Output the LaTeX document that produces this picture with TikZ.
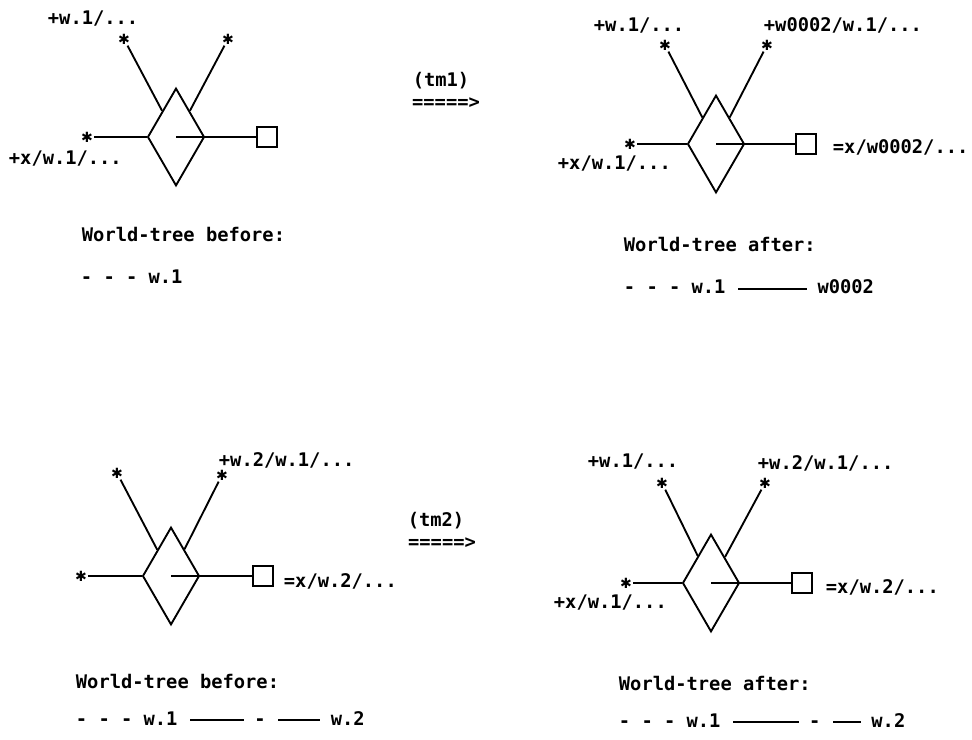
\documentclass[tikz,border=0pt]{standalone}
\usepackage{fontspec}
\setmonofont{DejaVu Sans Mono}
\newfontfamily\symfont{DejaVu Sans}
\usetikzlibrary{shapes.geometric, positioning}

\begin{document}
\begin{tikzpicture}[x=0.03cm, y=-0.03cm, line width=1.6pt,
    txt/.style={inner sep=0pt, font=\ttfamily\bfseries\fontsize{16}{18}\selectfont},
    lbl/.style={txt, anchor=base west},
    wt/.style={txt, anchor=base west, text height=9pt, text depth=0pt},
    wline/.style={shorten <=10pt, shorten >=8pt},
    wdia/.style={draw, diamond, minimum width=48.5pt, minimum height=83.3pt, inner sep=0pt},
    wsq/.style={draw, minimum size=17pt, inner sep=0pt},
    astr/.style={inner sep=0.5pt, font=\symfont\fontsize{12}{12}\selectfont}]
    \useasboundingbox (0,0) rectangle (972,740);

    % before (tm1)
    \node[wdia] (d1) at (176,137) {};
    \node[astr] (s1a) at (124,39) {✱};
    \node[astr] (s1b) at (228,39) {✱};
    \node[astr] (s1c) at (87,137) {✱};
    \node[wsq] (q1) at (267,137) {};
    \draw (s1a) -- (d1);
    \draw (s1b) -- (d1);
    \draw (s1c) -- (d1);
    \draw (d1.center) -- (q1);
    \node[lbl] (l1a) at (47,25) {+w.1/...};
    \node[lbl] (l1c) at (8,165) {+x/w.1/...};
    \node[lbl] (h1) at (81,242) {World-tree before:};
    \node[wt] (t1a) at (80,284) {- - - w.1};

    % after (tm1)
    \node[wdia] (d2) at (716,144) {};
    \node[astr] (s2a) at (665,45) {✱};
    \node[astr] (s2b) at (767,45) {✱};
    \node[astr] (s2c) at (630,144) {✱};
    \node[wsq] (q2) at (806,144) {};
    \draw (s2a) -- (d2);
    \draw (s2b) -- (d2);
    \draw (s2c) -- (d2);
    \draw (d2.center) -- (q2);
    \node[lbl] (l2a) at (593,32) {+w.1/...};
    \node[lbl] (l2b) at (763,32) {+w0002/w.1/...};
    \node[lbl] (l2q) at (832,154) {=x/w0002/...};
    \node[lbl] (l2c) at (557,170) {+x/w.1/...};
    \node[lbl] (h2) at (623,252) {World-tree after:};
    \node[wt] (t2a) at (623,294) {- - - w.1};
    \node[wt, base right=77pt of t2a] (t2b) {w0002};
    \draw[wline] (t2a) -- (t2b);

    % transitions
    \node[txt] (tm1) at (441,81) {(tm1)};
    \node[txt] (ar1) at (446,103) {=====>};
    \node[txt] (tm2) at (436,521) {(tm2)};
    \node[txt] (ar2) at (442,543) {=====>};

    % before (tm2)
    \node[wdia] (d3) at (171,576) {};
    \node[astr] (s3a) at (117,473) {✱};
    \node[astr] (s3b) at (222,475) {✱};
    \node[astr] (s3c) at (81,576) {✱};
    \node[wsq] (q3) at (263,576) {};
    \draw (s3a) -- (d3);
    \draw (s3b) -- (d3);
    \draw (s3c) -- (d3);
    \draw (d3.center) -- (q3);
    \node[lbl] (l3b) at (218,466) {+w.2/w.1/...};
    \node[lbl] (l3q) at (283,587) {=x/w.2/...};
    \node[lbl] (h3) at (75,688) {World-tree before:};
    \node[wt] (t3a) at (75,725) {- - - w.1};
    \node[wt, base right=64pt of t3a] (t3b) {-};
    \node[wt, base right=54pt of t3b] (t3c) {w.2};
    \draw[wline] (t3a) -- (t3b);
    \draw[wline] (t3b) -- (t3c);

    % after (tm2)
    \node[wdia] (d4) at (711,583) {};
    \node[astr] (s4a) at (662,483) {✱};
    \node[astr] (s4b) at (765,483) {✱};
    \node[astr] (s4c) at (626,583) {✱};
    \node[wsq] (q4) at (802,583) {};
    \draw (s4a) -- (d4);
    \draw (s4b) -- (d4);
    \draw (s4c) -- (d4);
    \draw (d4.center) -- (q4);
    \node[lbl] (l4a) at (587,468) {+w.1/...};
    \node[lbl] (l4b) at (757,470) {+w.2/w.1/...};
    \node[lbl] (l4q) at (825,593) {=x/w.2/...};
    \node[lbl] (l4c) at (553,608) {+x/w.1/...};
    \node[lbl] (h4) at (618,690) {World-tree after:};
    \node[wt] (t4a) at (618,727) {- - - w.1};
    \node[wt, base right=74pt of t4a] (t4b) {-};
    \node[wt, base right=42pt of t4b] (t4c) {w.2};
    \draw[wline] (t4a) -- (t4b);
    \draw[wline] (t4b) -- (t4c);
\end{tikzpicture}
\end{document}
